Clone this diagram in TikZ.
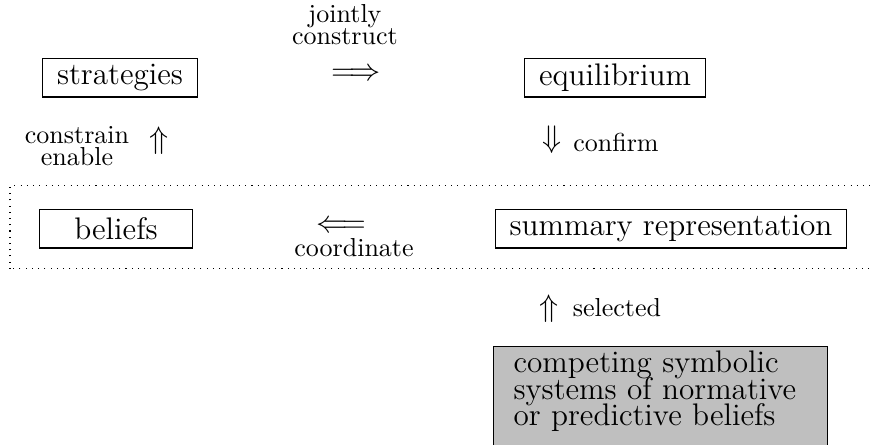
\documentclass[tikz,border=0pt]{standalone}
\usepackage{amsmath}
\begin{document}
\begin{tikzpicture}[
        box/.style={draw, font=\large, inner xsep=5.5pt, inner ysep=1pt, minimum height=0.515cm},
        sym/.style={font=\large, inner sep=0pt},
        lbl/.style={align=center, inner sep=0pt},
        pool/.style={draw, fill=gray!50, font=\large, align=left, anchor=north west,
            text width=3.973cm, inner xsep=7.7pt, inner ysep=1.7pt}
    ]
        % Frame of the picture
        \useasboundingbox (0,0) rectangle (11.787,6.015);

        % Dotted band round the middle row
        \draw[dotted] (0.135,2.379) rectangle (12.2,3.501);

        % Top row
        \node[box] (strat) at (1.622,4.961) {strategies};
        \node[box] (equil) at (8.313,4.961) {equilibrium};
        \node[sym] (jointarrow) at (4.812,5.001) {$\Longrightarrow$};
        \node[lbl] (jointlbl) at (4.663,5.684) {jointly\\[-3.5pt]construct};

        % Vertical links of the top row
        \node[sym] (enablearrow) at (2.149,4.109) {$\Uparrow$};
        \node[lbl] (enablelbl) at (1.041,4.037) {constrain\\[-3.5pt]enable};
        \node[sym] (confirmarrow) at (7.461,4.123) {$\Downarrow$};
        \node[lbl] (confirmlbl) at (8.326,4.086) {confirm};

        % Middle row
        \node[box, minimum width=2.06cm] (belief) at (1.568,2.920) {beliefs};
        \node[box] (summ) at (9.070,2.920) {summary representation};
        \node[sym] (coordarrow) at (4.609,2.947) {$\Longleftarrow$};
        \node[lbl] (coordlbl) at (4.785,2.663) {coordinate};

        % Bottom row
        \node[sym] (selectarrow) at (7.421,1.838) {$\Uparrow$};
        \node[lbl] (selectlbl) at (8.340,1.856) {selected};
        \node[pool] (pool) at (6.664,1.338)
            {competing symbolic\\[-3.8pt]systems of normative\\[-3.8pt]or predictive beliefs\rule[-9pt]{0pt}{9pt}};

    \end{tikzpicture}
\end{document}
